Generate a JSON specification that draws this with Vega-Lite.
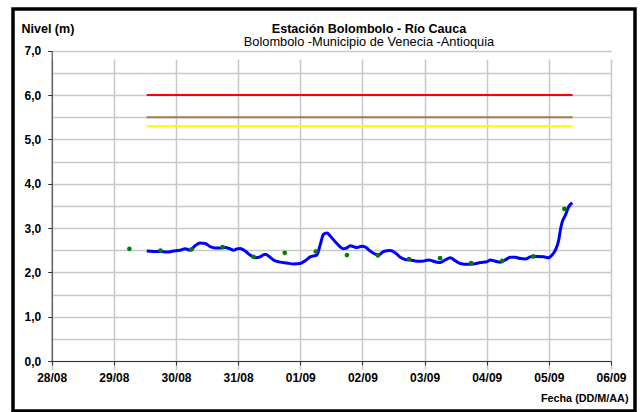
{
  "$schema": "https://vega.github.io/schema/vega-lite/v6.json",
  "width": 622,
  "height": 402,
  "autosize": {"type": "none"},
  "padding": {"left": 13, "top": 9, "right": 5, "bottom": 1},
  "background": "white",
  "config": {
    "view": {"stroke": "black", "strokeWidth": 3.5},
    "font": "Liberation Sans"
  },
  "title": {
    "text": "Estación Bolombolo - Río Cauca",
    "subtitle": "Bolombolo -Municipio de Venecia -Antioquia",
    "anchor": "middle",
    "frame": "group",
    "offset": -40,
    "dx": 45,
    "font": "Liberation Sans",
    "fontSize": 12.6,
    "fontWeight": "bold",
    "color": "black",
    "subtitleFont": "Liberation Sans",
    "subtitleFontSize": 12.8,
    "subtitleColor": "black",
    "subtitlePadding": 1
  },
  "encoding": {
    "x": {
      "field": "fecha",
      "type": "temporal",
      "scale": {
        "domain": [{"year": 2011, "month": 8, "date": 28}, {"year": 2011, "month": 9, "date": 6}],
        "range": [38.7, 598]
      },
      "axis": {
        "values": [
          {"year": 2011, "month": 8, "date": 28},
          {"year": 2011, "month": 8, "date": 29},
          {"year": 2011, "month": 8, "date": 30},
          {"year": 2011, "month": 8, "date": 31},
          {"year": 2011, "month": 9, "date": 1},
          {"year": 2011, "month": 9, "date": 2},
          {"year": 2011, "month": 9, "date": 3},
          {"year": 2011, "month": 9, "date": 4},
          {"year": 2011, "month": 9, "date": 5},
          {"year": 2011, "month": 9, "date": 6}
        ],
        "format": "%d/%m",
        "offset": -50,
        "grid": true,
        "gridColor": "#c8c8c8",
        "gridWidth": 1.5,
        "domainColor": "#333333",
        "tickColor": "#333333",
        "tickSize": 4,
        "labelFont": "Liberation Sans",
        "labelFontSize": 12,
        "labelFontWeight": "bold",
        "labelColor": "black",
        "labelPadding": 7,
        "labelOverlap": false,
        "labelFlush": false,
        "title": "Fecha (DD/M/AA)",
        "titleX": 615,
        "titleY": 37.5,
        "titleAlign": "right",
        "titleBaseline": "middle",
        "titleFont": "Liberation Sans",
        "titleFontSize": 10.8,
        "titleFontWeight": "bold",
        "titleColor": "black"
      }
    },
    "y": {
      "field": "nivel",
      "type": "quantitative",
      "scale": {"domain": [0, 7], "range": [352, 41.7], "nice": false, "zero": true},
      "axis": {
        "values": [0, 0.5, 1, 1.5, 2, 2.5, 3, 3.5, 4, 4.5, 5, 5.5, 6, 6.5, 7],
        "labelExpr": "datum.value % 1 == 0 ? replace(format(datum.value, '.1f'), '.', ',') : ''",
        "tickOpacity": {"condition": {"test": "datum.value % 1 != 0", "value": 0}, "value": 1},
        "offset": -38.7,
        "grid": true,
        "gridColor": "#c8c8c8",
        "gridWidth": 1.5,
        "domainColor": "#333333",
        "tickColor": "#333333",
        "tickSize": 4,
        "labelFont": "Liberation Sans",
        "labelFontSize": 12,
        "labelFontWeight": "bold",
        "labelColor": "black",
        "labelPadding": 7,
        "labelOverlap": false,
        "labelFlush": false,
        "title": "Nivel (m)",
        "titleAngle": 0,
        "titleX": -30.7,
        "titleY": 19.5,
        "titleAlign": "left",
        "titleBaseline": "middle",
        "titleFont": "Liberation Sans",
        "titleFontSize": 12.5,
        "titleFontWeight": "bold",
        "titleColor": "black"
      }
    }
  },
  "layer": [
    {
      "data": {
        "values": [
          {"umbral": "Rojo", "nivel": 6.0, "fecha": "2011-08-29T12:42", "fecha_fin": "2011-09-05T09:10"},
          {"umbral": "Naranja", "nivel": 5.5, "fecha": "2011-08-29T12:42", "fecha_fin": "2011-09-05T09:10"},
          {"umbral": "Amarillo", "nivel": 5.3, "fecha": "2011-08-29T12:42", "fecha_fin": "2011-09-05T09:10"}
        ]
      },
      "mark": {"type": "rule", "strokeWidth": 2},
      "encoding": {
        "x2": {"field": "fecha_fin"},
        "color": {
          "field": "umbral",
          "type": "nominal",
          "scale": {"domain": ["Rojo", "Naranja", "Amarillo"], "range": ["#ff0000", "#a67c52", "#ffff00"]},
          "legend": null
        }
      }
    },
    {
      "data": {
        "values": [
          {"fecha": "2011-08-29T12:42", "nivel": 2.48},
          {"fecha": "2011-08-29T15:17", "nivel": 2.47},
          {"fecha": "2011-08-29T17:51", "nivel": 2.47},
          {"fecha": "2011-08-29T20:25", "nivel": 2.46},
          {"fecha": "2011-08-29T23:01", "nivel": 2.48},
          {"fecha": "2011-08-30T01:35", "nivel": 2.50},
          {"fecha": "2011-08-30T03:32", "nivel": 2.53},
          {"fecha": "2011-08-30T05:27", "nivel": 2.50},
          {"fecha": "2011-08-30T07:23", "nivel": 2.60},
          {"fecha": "2011-08-30T09:19", "nivel": 2.66},
          {"fecha": "2011-08-30T11:15", "nivel": 2.65},
          {"fecha": "2011-08-30T13:11", "nivel": 2.58},
          {"fecha": "2011-08-30T15:07", "nivel": 2.55},
          {"fecha": "2011-08-30T17:02", "nivel": 2.55},
          {"fecha": "2011-08-30T18:59", "nivel": 2.56},
          {"fecha": "2011-08-30T20:54", "nivel": 2.53},
          {"fecha": "2011-08-30T22:12", "nivel": 2.50},
          {"fecha": "2011-08-30T23:30", "nivel": 2.53},
          {"fecha": "2011-08-31T00:46", "nivel": 2.54},
          {"fecha": "2011-08-31T02:43", "nivel": 2.48},
          {"fecha": "2011-08-31T04:38", "nivel": 2.39},
          {"fecha": "2011-08-31T06:35", "nivel": 2.33},
          {"fecha": "2011-08-31T08:30", "nivel": 2.35},
          {"fecha": "2011-08-31T10:26", "nivel": 2.41},
          {"fecha": "2011-08-31T11:43", "nivel": 2.37},
          {"fecha": "2011-08-31T13:39", "nivel": 2.28},
          {"fecha": "2011-08-31T16:13", "nivel": 2.23},
          {"fecha": "2011-08-31T18:49", "nivel": 2.21},
          {"fecha": "2011-08-31T21:23", "nivel": 2.19},
          {"fecha": "2011-08-31T23:57", "nivel": 2.20},
          {"fecha": "2011-09-01T01:54", "nivel": 2.26},
          {"fecha": "2011-09-01T03:49", "nivel": 2.35},
          {"fecha": "2011-09-01T06:24", "nivel": 2.39},
          {"fecha": "2011-09-01T07:41", "nivel": 2.62},
          {"fecha": "2011-09-01T08:59", "nivel": 2.86},
          {"fecha": "2011-09-01T10:16", "nivel": 2.89},
          {"fecha": "2011-09-01T11:33", "nivel": 2.82},
          {"fecha": "2011-09-01T14:08", "nivel": 2.65},
          {"fecha": "2011-09-01T16:42", "nivel": 2.53},
          {"fecha": "2011-09-01T18:00", "nivel": 2.55},
          {"fecha": "2011-09-01T19:18", "nivel": 2.60},
          {"fecha": "2011-09-01T20:34", "nivel": 2.58},
          {"fecha": "2011-09-01T21:52", "nivel": 2.56},
          {"fecha": "2011-09-01T23:46", "nivel": 2.59},
          {"fecha": "2011-09-02T01:12", "nivel": 2.57},
          {"fecha": "2011-09-02T02:24", "nivel": 2.51},
          {"fecha": "2011-09-02T04:56", "nivel": 2.41},
          {"fecha": "2011-09-02T06:14", "nivel": 2.39},
          {"fecha": "2011-09-02T08:10", "nivel": 2.47},
          {"fecha": "2011-09-02T10:45", "nivel": 2.49},
          {"fecha": "2011-09-02T12:40", "nivel": 2.44},
          {"fecha": "2011-09-02T14:37", "nivel": 2.34},
          {"fecha": "2011-09-02T16:32", "nivel": 2.29},
          {"fecha": "2011-09-02T18:29", "nivel": 2.28},
          {"fecha": "2011-09-02T21:03", "nivel": 2.25},
          {"fecha": "2011-09-02T22:59", "nivel": 2.25},
          {"fecha": "2011-09-03T01:34", "nivel": 2.28},
          {"fecha": "2011-09-03T03:29", "nivel": 2.25},
          {"fecha": "2011-09-03T06:04", "nivel": 2.22},
          {"fecha": "2011-09-03T07:59", "nivel": 2.28},
          {"fecha": "2011-09-03T09:56", "nivel": 2.33},
          {"fecha": "2011-09-03T11:52", "nivel": 2.26},
          {"fecha": "2011-09-03T13:48", "nivel": 2.20},
          {"fecha": "2011-09-03T16:22", "nivel": 2.18},
          {"fecha": "2011-09-03T18:58", "nivel": 2.19},
          {"fecha": "2011-09-03T21:32", "nivel": 2.22},
          {"fecha": "2011-09-04T00:06", "nivel": 2.24},
          {"fecha": "2011-09-04T01:23", "nivel": 2.28},
          {"fecha": "2011-09-04T03:20", "nivel": 2.25},
          {"fecha": "2011-09-04T05:15", "nivel": 2.23},
          {"fecha": "2011-09-04T07:12", "nivel": 2.28},
          {"fecha": "2011-09-04T09:07", "nivel": 2.34},
          {"fecha": "2011-09-04T11:04", "nivel": 2.34},
          {"fecha": "2011-09-04T12:59", "nivel": 2.31},
          {"fecha": "2011-09-04T14:56", "nivel": 2.30},
          {"fecha": "2011-09-04T16:51", "nivel": 2.35},
          {"fecha": "2011-09-04T19:26", "nivel": 2.36},
          {"fecha": "2011-09-04T22:01", "nivel": 2.35},
          {"fecha": "2011-09-04T23:56", "nivel": 2.33},
          {"fecha": "2011-09-05T01:13", "nivel": 2.39},
          {"fecha": "2011-09-05T02:31", "nivel": 2.50},
          {"fecha": "2011-09-05T03:49", "nivel": 2.73},
          {"fecha": "2011-09-05T04:26", "nivel": 2.95},
          {"fecha": "2011-09-05T05:05", "nivel": 3.12},
          {"fecha": "2011-09-05T06:23", "nivel": 3.29},
          {"fecha": "2011-09-05T07:40", "nivel": 3.48},
          {"fecha": "2011-09-05T09:04", "nivel": 3.57}
        ]
      },
      "mark": {"type": "line", "color": "#0000ff", "strokeWidth": 3, "interpolate": "monotone"}
    },
    {
      "data": {
        "values": [
          {"fecha": "2011-08-29T06:00", "nivel": 2.53},
          {"fecha": "2011-08-29T18:00", "nivel": 2.49},
          {"fecha": "2011-08-30T06:00", "nivel": 2.52},
          {"fecha": "2011-08-30T18:00", "nivel": 2.57},
          {"fecha": "2011-08-31T06:00", "nivel": 2.35},
          {"fecha": "2011-08-31T18:00", "nivel": 2.44},
          {"fecha": "2011-09-01T06:00", "nivel": 2.47},
          {"fecha": "2011-09-01T18:00", "nivel": 2.39},
          {"fecha": "2011-09-02T06:00", "nivel": 2.38},
          {"fecha": "2011-09-02T18:00", "nivel": 2.30},
          {"fecha": "2011-09-03T06:00", "nivel": 2.32},
          {"fecha": "2011-09-03T18:00", "nivel": 2.21},
          {"fecha": "2011-09-04T06:00", "nivel": 2.26},
          {"fecha": "2011-09-04T18:00", "nivel": 2.36},
          {"fecha": "2011-09-05T06:00", "nivel": 3.43}
        ]
      },
      "mark": {"type": "circle", "color": "#008000", "size": 22, "opacity": 1}
    }
  ]
}
